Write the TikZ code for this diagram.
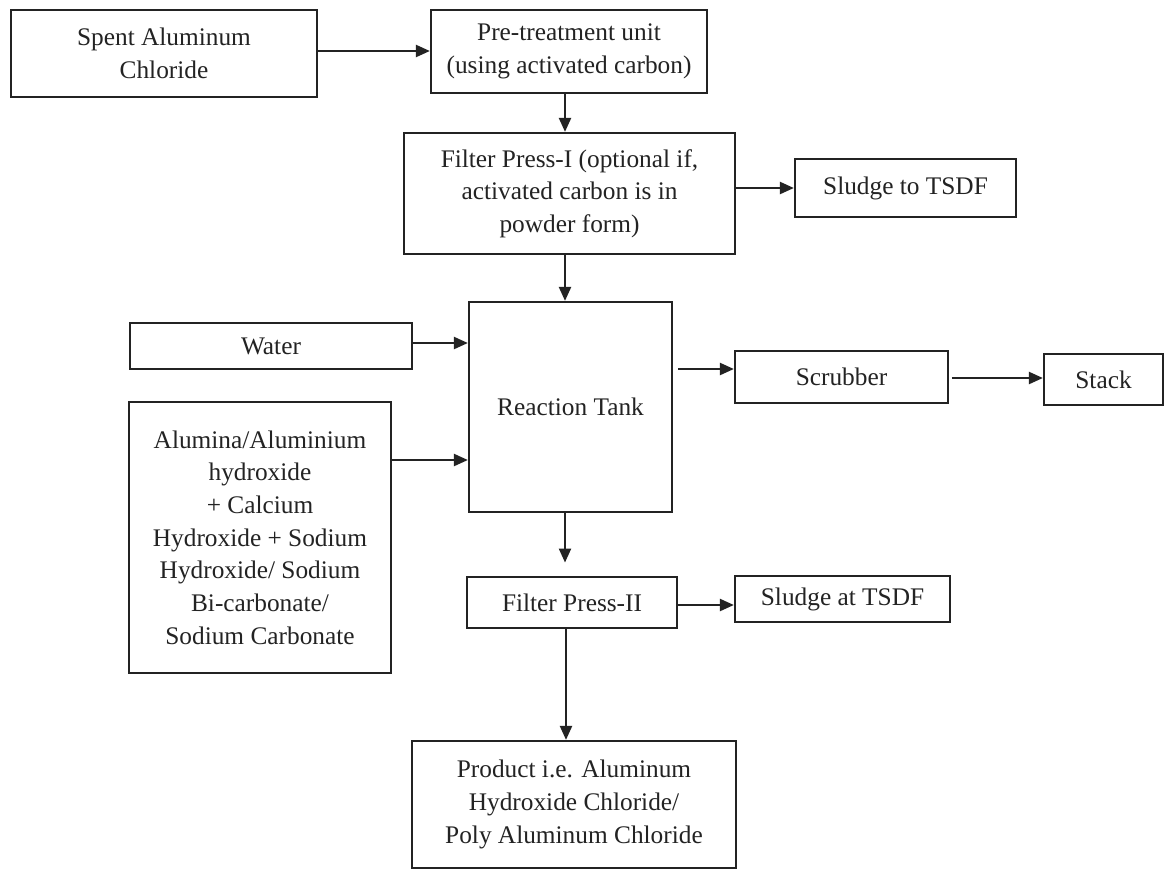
\documentclass[tikz,border=0pt]{standalone}
\usepackage{fontspec}
\setmainfont{Liberation Serif}
\usetikzlibrary{arrows.meta}
\definecolor{ink}{RGB}{35,35,35}
\begin{document}
\begin{tikzpicture}[x=0.75pt,y=-0.75pt,
  box/.style={draw=ink,line width=1.7pt,rectangle,inner sep=2pt,align=center,
    font=\fontsize{19}{24.5}\selectfont,text=ink},
  flow/.style={draw=ink,line width=1.7pt,-{Triangle[length=10.5pt,width=9pt]}}]
\useasboundingbox[fill=white] (0,0) rectangle (1169,872);

% process units
\node[box,minimum width=229.5pt,minimum height=65.25pt] (spent) at (164,53.5) {Spent Aluminum\\Chloride};
\node[box,minimum width=207pt,minimum height=62.25pt] (pre) at (569,51.5) {Pre-treatment unit\\(using activated carbon)};
\node[box,minimum width=248.25pt,minimum height=90.75pt] (fp1) at (569.5,193.5) {Filter Press-I (optional if,\\activated carbon is in\\powder form)};
\node[box,minimum width=165.75pt,minimum height=43.5pt] (sludge1) at (905.5,188) {Sludge to TSDF};
\node[box,minimum width=211.5pt,minimum height=34.5pt] (water) at (271,346) {Water};
\node[box,minimum width=152.25pt,minimum height=157.5pt] (tank) at (570.5,407) {Reaction Tank};
\node[box,minimum width=159.75pt,minimum height=39pt] (scrub) at (841.5,377) {Scrubber};
\node[box,minimum width=89.25pt,minimum height=38.25pt] (stack) at (1103.5,379.5) {Stack};
\node[box,minimum width=196.5pt,minimum height=203.25pt] (chem) at (260,537.5) {Alumina/Aluminium\\hydroxide\\+ Calcium\\Hydroxide + Sodium\\Hydroxide/ Sodium\\Bi-carbonate/\\Sodium Carbonate};
\node[box,minimum width=157.5pt,minimum height=38.25pt] (fp2) at (572,602.5) {Filter Press-II};
\node[box,minimum width=161.25pt,minimum height=34.5pt] (sludge2) at (842.5,599) {Sludge at TSDF};
\node[box,minimum width=243pt,minimum height=95.25pt] (prod) at (574,804.5) {Product i.e. Aluminum\\Hydroxide Chloride/\\Poly Aluminum Chloride};

% reference lines for the flow routing
\coordinate (spine) at (565,0);
\coordinate (feedB) at (0,460);
\coordinate (vent) at (0,369);

% flows
\draw[flow] (spent.east |- 0,51) -- (pre.west |- 0,51);
\draw[flow] (pre.south -| spine) -- (fp1.north -| spine);
\draw[flow] (fp1.east |- sludge1.west) -- (sludge1.west);
\draw[flow] (fp1.south -| spine) -- (tank.north -| spine);
\draw[flow] (water.east |- 0,343) -- (tank.west |- 0,343);
\draw[flow] (chem.east |- feedB) -- (tank.west |- feedB);
\draw[flow,shorten <=4pt] (tank.east |- vent) -- (scrub.west |- vent);
\draw[flow,shorten <=2pt] (scrub.east |- 0,378) -- (stack.west |- 0,378);
\draw[flow,shorten >=10pt] (tank.south -| spine) -- (fp2.north -| spine);
\draw[flow] (fp2.east |- 0,605) -- (sludge2.west |- 0,605);
\draw[flow] (fp2.south -| 566,0) -- (prod.north -| 566,0);
\end{tikzpicture}
\end{document}
